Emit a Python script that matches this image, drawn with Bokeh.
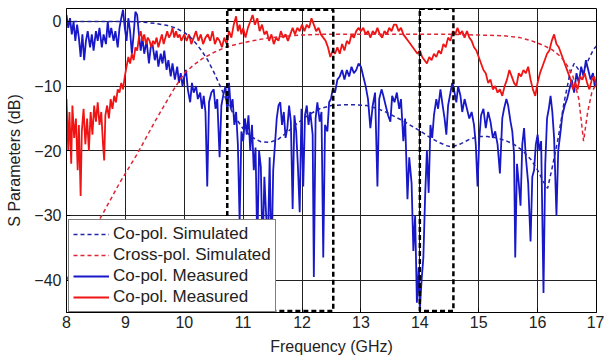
from bokeh.plotting import figure
from bokeh.models import Range1d, Legend, LegendItem, FixedTicker
from bokeh.embed import file_html
from bokeh.resources import INLINE

# ---------------- data ----------------
x_ticks = [8, 9, 10, 11, 12, 13, 14, 15, 16, 17]
y_ticks = [-40, -30, -20, -10, 0]
y_tick_labels = ["\u221240", "\u221230", "\u221220", "\u221210", "0"]

# Co-pol. simulated (blue dashed)
copol_sim_f = [8.0, 8.5, 9.0, 9.3, 9.5, 9.7, 9.85, 10.0, 10.1, 10.2, 10.3, 10.4, 10.5, 10.6,
               10.73, 10.85, 11.0, 11.15, 11.3, 11.45, 11.6, 11.75, 11.9, 12.1, 12.3, 12.5,
               12.7, 12.9, 13.1, 13.25, 13.4, 13.55, 13.7, 13.85, 14.0, 14.15, 14.3, 14.45,
               14.55, 14.7, 14.85, 15.0, 15.15, 15.3, 15.45, 15.6, 15.75, 15.9, 16.0, 16.1,
               16.17, 16.25, 16.35, 16.45, 16.55, 16.62, 16.7, 16.78, 16.86, 16.95, 17.0]
copol_sim_db = [0, 0, 0, -0.1, -0.3, -0.6, -1.0, -1.7, -2.4, -3.4, -4.6, -6.0, -7.8, -9.8,
                -12.5, -14.6, -16.6, -17.9, -18.6, -18.7, -18.2, -17.1, -15.9, -14.5, -13.5, -13.0,
                -12.9, -12.9, -13.0, -13.4, -13.9, -14.6, -15.3, -16.1, -16.9, -17.8, -18.6, -19.2,
                -19.4, -18.9, -18.2, -17.8, -17.8, -18.0, -18.4, -19.0, -20.0, -21.5, -23.0, -24.8,
                -25.8, -22.5, -18.0, -12.5, -8.0, -6.5, -7.5, -7.8, -6.0, -4.3, -3.8]

# Cross-pol. simulated (red dashed)
xpol_sim_f = [8.0, 8.3, 8.6, 8.9, 9.2, 9.5, 9.8, 10.0, 10.15, 10.3, 10.5, 10.7, 10.9, 11.1,
              11.4, 11.7, 12.0, 12.3, 12.6, 13.0, 13.5, 14.0, 14.5, 15.0, 15.4, 15.7, 15.9,
              16.1, 16.25, 16.4, 16.5, 16.6, 16.7, 16.78, 16.85, 16.92, 17.0]
xpol_sim_db = [-40, -35, -30, -25, -20.5, -15.5, -10.8, -8.0, -6.8, -5.8, -4.8, -4.0, -3.5, -3.1,
               -2.6, -2.3, -2.1, -2.0, -2.0, -2.0, -2.0, -2.0, -2.0, -2.1, -2.2, -2.5, -3.0,
               -3.7, -4.4, -5.5, -6.8, -8.5, -12.0, -18.5, -14.0, -11.0, -9.5]

# Co-pol. measured (blue solid)
copol_meas_f = [
    8.00, 8.03, 8.06, 8.09, 8.12, 8.15, 8.18, 8.21, 8.24, 8.27, 8.30, 8.33, 8.36, 8.40, 8.43,
    8.46, 8.50, 8.53, 8.56, 8.60, 8.63, 8.67, 8.70, 8.73, 8.76, 8.80, 8.83, 8.87, 8.90, 8.93,
    8.96, 8.99, 9.02, 9.05, 9.08, 9.11, 9.14, 9.17, 9.20, 9.23, 9.26, 9.29, 9.32, 9.36, 9.40,
    9.43, 9.46, 9.50, 9.53, 9.56, 9.60, 9.63, 9.66, 9.70, 9.73, 9.77, 9.80, 9.84, 9.88, 9.91,
    9.94, 9.97, 10.00, 10.03, 10.06, 10.10, 10.13, 10.16, 10.20, 10.23, 10.27, 10.30, 10.33,
    10.36, 10.39, 10.42, 10.46, 10.50, 10.53, 10.56, 10.60, 10.63, 10.66, 10.70, 10.73, 10.76,
    10.79, 10.82, 10.85, 10.88, 10.91, 10.94, 10.97, 11.00, 11.03, 11.06, 11.09, 11.12, 11.15,
    11.18, 11.21, 11.24, 11.27, 11.30, 11.33, 11.36, 11.39, 11.42, 11.45, 11.48, 11.51, 11.54,
    11.57, 11.60, 11.63, 11.66, 11.69, 11.72, 11.75, 11.78, 11.81, 11.84, 11.87, 11.90, 11.93,
    11.96, 11.99, 12.02, 12.05, 12.08, 12.11, 12.14, 12.18, 12.20, 12.23, 12.26, 12.30, 12.33,
    12.36, 12.39, 12.43, 12.46, 12.49, 12.52, 12.56, 12.60, 12.64, 12.68, 12.72, 12.76, 12.80,
    12.84, 12.88, 12.92, 12.96, 13.00, 13.04, 13.08, 13.12, 13.16, 13.20, 13.24, 13.28, 13.31,
    13.35, 13.38, 13.42, 13.46, 13.50, 13.53, 13.57, 13.61, 13.65, 13.68, 13.72, 13.75, 13.79,
    13.82, 13.86, 13.89, 13.92, 13.95, 13.98, 14.00, 14.03, 14.06, 14.09, 14.12, 14.15, 14.18,
    14.21, 14.24, 14.28, 14.31, 14.35, 14.38, 14.42, 14.45, 14.48, 14.52, 14.55, 14.58, 14.62,
    14.65, 14.69, 14.72, 14.76, 14.80, 14.84, 14.88, 14.92, 14.95, 14.98, 15.01, 15.04, 15.08,
    15.12, 15.16, 15.20, 15.24, 15.28, 15.32, 15.36, 15.40, 15.43, 15.47, 15.50, 15.54, 15.57,
    15.60, 15.62, 15.65, 15.68, 15.71, 15.74, 15.77, 15.80, 15.84, 15.88, 15.91, 15.94, 15.97,
    16.00, 16.03, 16.06, 16.10, 16.13, 16.16, 16.19, 16.22, 16.25, 16.28, 16.32, 16.35, 16.39,
    16.42, 16.46, 16.50, 16.54, 16.58, 16.62, 16.66, 16.70, 16.74, 16.78, 16.82, 16.86, 16.90,
    16.94, 16.97, 17.00]
copol_meas_db = [
    1.0, -1.0, 0.5, -2.0, 0.0, -3.0, -0.5, -2.5, -5.5, -2.0, -6.0, -3.0, -1.5, -4.0, -2.0,
    -4.5, -1.5, -3.0, -1.0, -4.0, -2.0, -3.5, 0.0, -2.5, -1.0, -3.0, -1.5, -4.0, -1.0, 0.5,
    1.8, -1.0, -3.0, 0.5, -1.5, -5.0, -2.0, 1.5, 1.0, -2.0, -4.5, -2.5, -5.0, -3.0, -6.5,
    -4.0, -3.5, -6.0, -4.5, -7.0, -5.0, -6.5, -4.5, -7.5, -6.0, -8.5, -6.5, -9.0, -7.0, -9.5,
    -8.0, -10.0, -8.5, -7.5, -10.5, -12.5, -9.5, -11.0, -10.0, -12.0, -11.0, -13.5, -11.5,
    -14.0, -25.5, -12.5, -11.0, -10.5, -13.5, -12.0, -21.0, -13.0, -11.5, -10.0, -14.0, -9.5,
    -13.5, -12.0, -16.0, -14.0, -19.0, -31.0, -17.0, -18.5, -15.0, -17.5, -14.5, -20.0, -16.0,
    -23.0, -19.5, -35.0, -20.0, -22.5, -36.0, -24.0, -30.0, -34.0, -21.0, -38.0, -23.0, -19.0,
    -15.0, -13.0, -12.5, -16.0, -14.0, -18.0, -16.5, -13.0, -15.5, -29.0, -14.5, -17.0, -22.5,
    -29.5, -13.5, -25.5, -14.5, -13.0, -16.0, -14.0, -17.5, -39.5, -15.0, -12.5, -15.5, -14.0,
    -36.5, -16.0, -17.0, -12.5, -12.0, -10.5, -11.0, -9.0, -8.5, -7.5, -9.0, -7.5, -8.5,
    -7.0, -8.0, -7.5, -6.5, -7.0, -8.5, -10.0, -12.0, -16.5, -13.0, -11.0, -25.5, -12.0,
    -10.5, -11.5, -13.0, -14.5, -15.5, -11.5, -12.5, -11.0, -13.5, -12.0, -18.5, -15.0, -27.5,
    -21.0, -25.0, -35.5, -30.0, -43.5, -38.0, -44.5, -40.0, -36.5, -27.0, -20.0, -26.5, -16.0,
    -18.0, -14.5, -12.0, -13.5, -10.5, -12.5, -15.0, -17.5, -13.0, -11.0, -9.5, -10.5, -12.5,
    -10.0, -11.5, -14.0, -12.0, -13.5, -15.0, -14.0, -16.0, -19.0, -25.5, -18.0, -14.5, -13.5,
    -16.5, -14.0, -15.5, -18.0, -17.0, -19.0, -23.5, -15.0, -13.5, -12.0, -13.0, -15.5, -17.0,
    -20.5, -36.5, -22.0, -25.0, -28.5, -19.0, -16.5, -21.0, -25.0, -34.0, -24.0, -23.0, -19.0,
    -17.5, -20.0, -18.5, -42.0, -22.0, -15.0, -13.5, -11.5, -14.0, -18.0, -30.0, -20.0, -17.0,
    -14.5, -13.0, -12.0, -10.5, -9.0, -11.0, -8.0, -9.5, -7.0, -8.5, -6.0, -7.5, -9.0,
    -8.0, -10.0, -9.0]

# Co-pol. measured (red solid, as labelled in the original)
xpol_meas_f = [
    8.00, 8.03, 8.05, 8.08, 8.10, 8.13, 8.16, 8.19, 8.21, 8.24, 8.26, 8.29, 8.32, 8.35, 8.38,
    8.41, 8.44, 8.47, 8.50, 8.53, 8.56, 8.59, 8.62, 8.64, 8.66, 8.69, 8.72, 8.75, 8.78, 8.81,
    8.84, 8.87, 8.90, 8.93, 8.96, 8.99, 9.02, 9.05, 9.08, 9.11, 9.14, 9.17, 9.20, 9.23, 9.26,
    9.29, 9.32, 9.35, 9.38, 9.41, 9.44, 9.47, 9.50, 9.53, 9.56, 9.59, 9.62, 9.65, 9.68, 9.71,
    9.74, 9.77, 9.80, 9.83, 9.86, 9.89, 9.92, 9.95, 10.00, 10.04, 10.08, 10.12, 10.16, 10.20,
    10.24, 10.28, 10.32, 10.36, 10.40, 10.44, 10.48, 10.52, 10.56, 10.60, 10.64, 10.68, 10.72,
    10.76, 10.80, 10.84, 10.88, 10.91, 10.94, 10.97, 11.00, 11.04, 11.08, 11.12, 11.16, 11.20,
    11.24, 11.28, 11.32, 11.36, 11.40, 11.44, 11.48, 11.52, 11.56, 11.60, 11.64, 11.68, 11.72,
    11.76, 11.80, 11.84, 11.88, 11.92, 11.96, 12.00, 12.04, 12.08, 12.12, 12.16, 12.20, 12.24,
    12.28, 12.32, 12.36, 12.40, 12.44, 12.48, 12.52, 12.56, 12.60, 12.64, 12.68, 12.72, 12.76,
    12.80, 12.84, 12.88, 12.92, 12.96, 13.00, 13.04, 13.08, 13.12, 13.16, 13.20, 13.24, 13.28,
    13.32, 13.36, 13.40, 13.44, 13.48, 13.52, 13.56, 13.60, 13.64, 13.68, 13.72, 13.76, 13.80,
    13.84, 13.88, 13.92, 13.96, 14.00, 14.04, 14.08, 14.12, 14.16, 14.20, 14.24, 14.28, 14.32,
    14.36, 14.40, 14.44, 14.48, 14.52, 14.56, 14.60, 14.64, 14.68, 14.72, 14.76, 14.80, 14.84,
    14.88, 14.92, 14.96, 15.00, 15.04, 15.08, 15.12, 15.16, 15.20, 15.24, 15.28, 15.32, 15.36,
    15.40, 15.44, 15.48, 15.52, 15.56, 15.60, 15.64, 15.68, 15.72, 15.76, 15.80, 15.84, 15.88,
    15.92, 15.96, 16.00, 16.04, 16.08, 16.12, 16.16, 16.20, 16.24, 16.28, 16.32, 16.36, 16.40,
    16.44, 16.48, 16.52, 16.56, 16.60, 16.64, 16.68, 16.72, 16.76, 16.80, 16.84, 16.88, 16.92,
    16.96, 17.00]
xpol_meas_db = [
    -12.0, -20.0, -14.0, -22.0, -13.0, -18.0, -15.0, -23.0, -16.0, -27.0, -17.0, -13.5, -19.0,
    -15.0, -20.0, -14.0, -17.5, -13.0, -15.5, -12.5, -16.0, -14.0, -19.0, -21.5, -14.5, -13.0,
    -15.0, -12.0, -13.5, -11.5, -12.5, -10.5, -11.0, -9.5, -10.5, -8.5, -7.0, -5.5, -6.5,
    -5.0, -6.0, -4.0, -4.5, -2.5, -1.5, -3.0, -2.0, -3.5, -2.5, -3.0, -4.0, -3.0, -3.5, -2.5,
    -4.0, -3.0, -2.0, -3.5, -2.5, -1.5, -2.5, -2.0, -1.0, -2.5, -1.5, -2.5, -2.0, -3.0, -2.0,
    -3.0, -2.0, -3.5, -2.5, -1.5, -3.0, -2.0, -3.5, -2.5, -2.0, -3.0, -1.5, -3.5, -2.5, -3.0,
    -4.0, -2.5, -3.5, -1.5, -2.5, -0.5, 0.8, -1.5, -0.5, -2.0, -1.0, -2.5, -1.0, 0.0, 1.0,
    -0.5, 0.5, -1.5, -0.5, -2.0, -1.5, -3.0, -2.0, -3.5, -2.5, -3.0, -1.5, -2.5, -2.0, -3.0,
    -2.0, -1.0, -2.0, -1.0, -1.5, -0.5, -1.5, -0.5, -1.0, 0.5, -0.5, -1.5, -1.0, -2.0, -2.5,
    -3.0, -4.0, -5.5, -4.5, -5.0, -4.0, -5.0, -3.5, -4.5, -3.0, -3.5, -2.0, -2.5, -1.5, -1.0,
    -1.5, -1.0, -2.0, -1.5, -2.5, -1.5, -2.0, -1.0, -2.0, -2.5, -1.5, -2.0, -1.0, -1.5, -0.5,
    -0.5, -1.5, -1.0, -2.0, -2.5, -3.0, -3.5, -4.0, -4.5, -5.0, -4.5, -5.5, -6.0, -6.5, -5.5,
    -6.0, -5.0, -5.5, -4.5, -5.0, -3.5, -4.0, -2.5, -3.0, -1.5, -2.0, -1.0, -2.0, -1.5, -2.5,
    -1.5, -2.5, -3.0, -4.0, -4.5, -5.5, -6.5, -7.5, -8.0, -9.5, -9.0, -10.5, -10.0, -11.0,
    -10.5, -11.5, -10.0, -9.0, -7.5, -8.5, -9.5, -10.0, -8.0, -8.5, -7.5, -8.0, -7.0, -9.0,
    -10.5, -11.5, -9.5, -8.0, -7.0, -6.0, -5.0, -4.5, -3.0, -2.0, -3.5, -4.0, -5.0, -6.0,
    -7.0, -8.0, -9.0, -10.5, -9.5, -10.5, -8.5, -9.0, -8.0, -9.5, -10.5, -9.0, -8.5, -10.0]

# highlighted bands (dashed rectangles)
band_left = [10.73, 14.0]
band_right = [12.53, 14.57]
band_top = [1.8, 1.95]
band_bottom = [-44.75, -44.75]

# ---------------- figure ----------------
FONT = "Liberation Sans"
BLUE = "#1818c8"
RED = "#f01515"
BLUE_D = "#2424a8"
RED_D = "#e02535"

p = figure(width=604, height=360, output_backend="svg", toolbar_location=None,
           x_range=Range1d(8, 17), y_range=Range1d(-45, 2),
           min_border_left=66, min_border_right=8, min_border_top=8, min_border_bottom=48)

p.background_fill_color = "white"
p.border_fill_color = "white"
p.outline_line_color = "black"
p.outline_line_width = 1

for g in (p.xgrid[0], p.ygrid[0]):
    g.grid_line_color = "#222222"
    g.grid_line_width = 1
p.xgrid.ticker = FixedTicker(ticks=x_ticks)
p.ygrid.ticker = FixedTicker(ticks=y_ticks)

p.xaxis.ticker = FixedTicker(ticks=x_ticks)
p.yaxis.ticker = FixedTicker(ticks=y_ticks)
p.yaxis.major_label_overrides = {t: s for t, s in zip(y_ticks, y_tick_labels)}
p.xaxis.axis_label = "Frequency (GHz)"
p.yaxis.axis_label = "S Parameters (dB)"
for ax in (p.xaxis[0], p.yaxis[0]):
    ax.axis_line_color = "black"
    ax.major_tick_in = 4
    ax.major_tick_out = 0
    ax.minor_tick_line_color = None
    ax.major_label_text_font = FONT
    ax.major_label_text_font_size = "16px"
    ax.major_label_text_color = "#222222"
    ax.axis_label_text_font = FONT
    ax.axis_label_text_font_size = "16px"
    ax.axis_label_text_font_style = "normal"
    ax.axis_label_text_color = "#222222"
p.xaxis.major_label_standoff = 3
p.xaxis.axis_label_standoff = 7
p.yaxis.major_label_standoff = 5
p.yaxis.axis_label_standoff = 8

r_bm = p.line(copol_meas_f, copol_meas_db, line_color=BLUE, line_width=1.8)
r_rm = p.line(xpol_meas_f, xpol_meas_db, line_color=RED, line_width=1.8)
r_bs = p.line(copol_sim_f, copol_sim_db, line_color=BLUE_D, line_width=1.5, line_dash="4 3")
r_rs = p.line(xpol_sim_f, xpol_sim_db, line_color=RED_D, line_width=1.5, line_dash="4 3")

p.quad(left=band_left, right=band_right, top=band_top, bottom=band_bottom,
       fill_alpha=0, line_color="black", line_width=2.5, line_dash="5 3")

legend = Legend(items=[
    LegendItem(label="Co-pol. Simulated", renderers=[r_bs]),
    LegendItem(label="Cross-pol. Simulated", renderers=[r_rs]),
    LegendItem(label="Co-pol. Measured", renderers=[r_bm]),
    LegendItem(label="Co-pol. Measured", renderers=[r_rm]),
], location=(2, 0))
legend.label_text_font = FONT
legend.label_text_font_size = "17px"
legend.label_text_color = "#222222"
legend.label_height = 20
legend.glyph_height = 20
legend.glyph_width = 36
legend.label_standoff = 4
legend.spacing = 1
legend.padding = 4
legend.margin = 0
legend.border_line_color = "black"
legend.border_line_width = 1
legend.background_fill_color = "white"
legend.background_fill_alpha = 1.0
p.add_layout(legend, "center")

open("out.html", "w").write(file_html(p, INLINE))
